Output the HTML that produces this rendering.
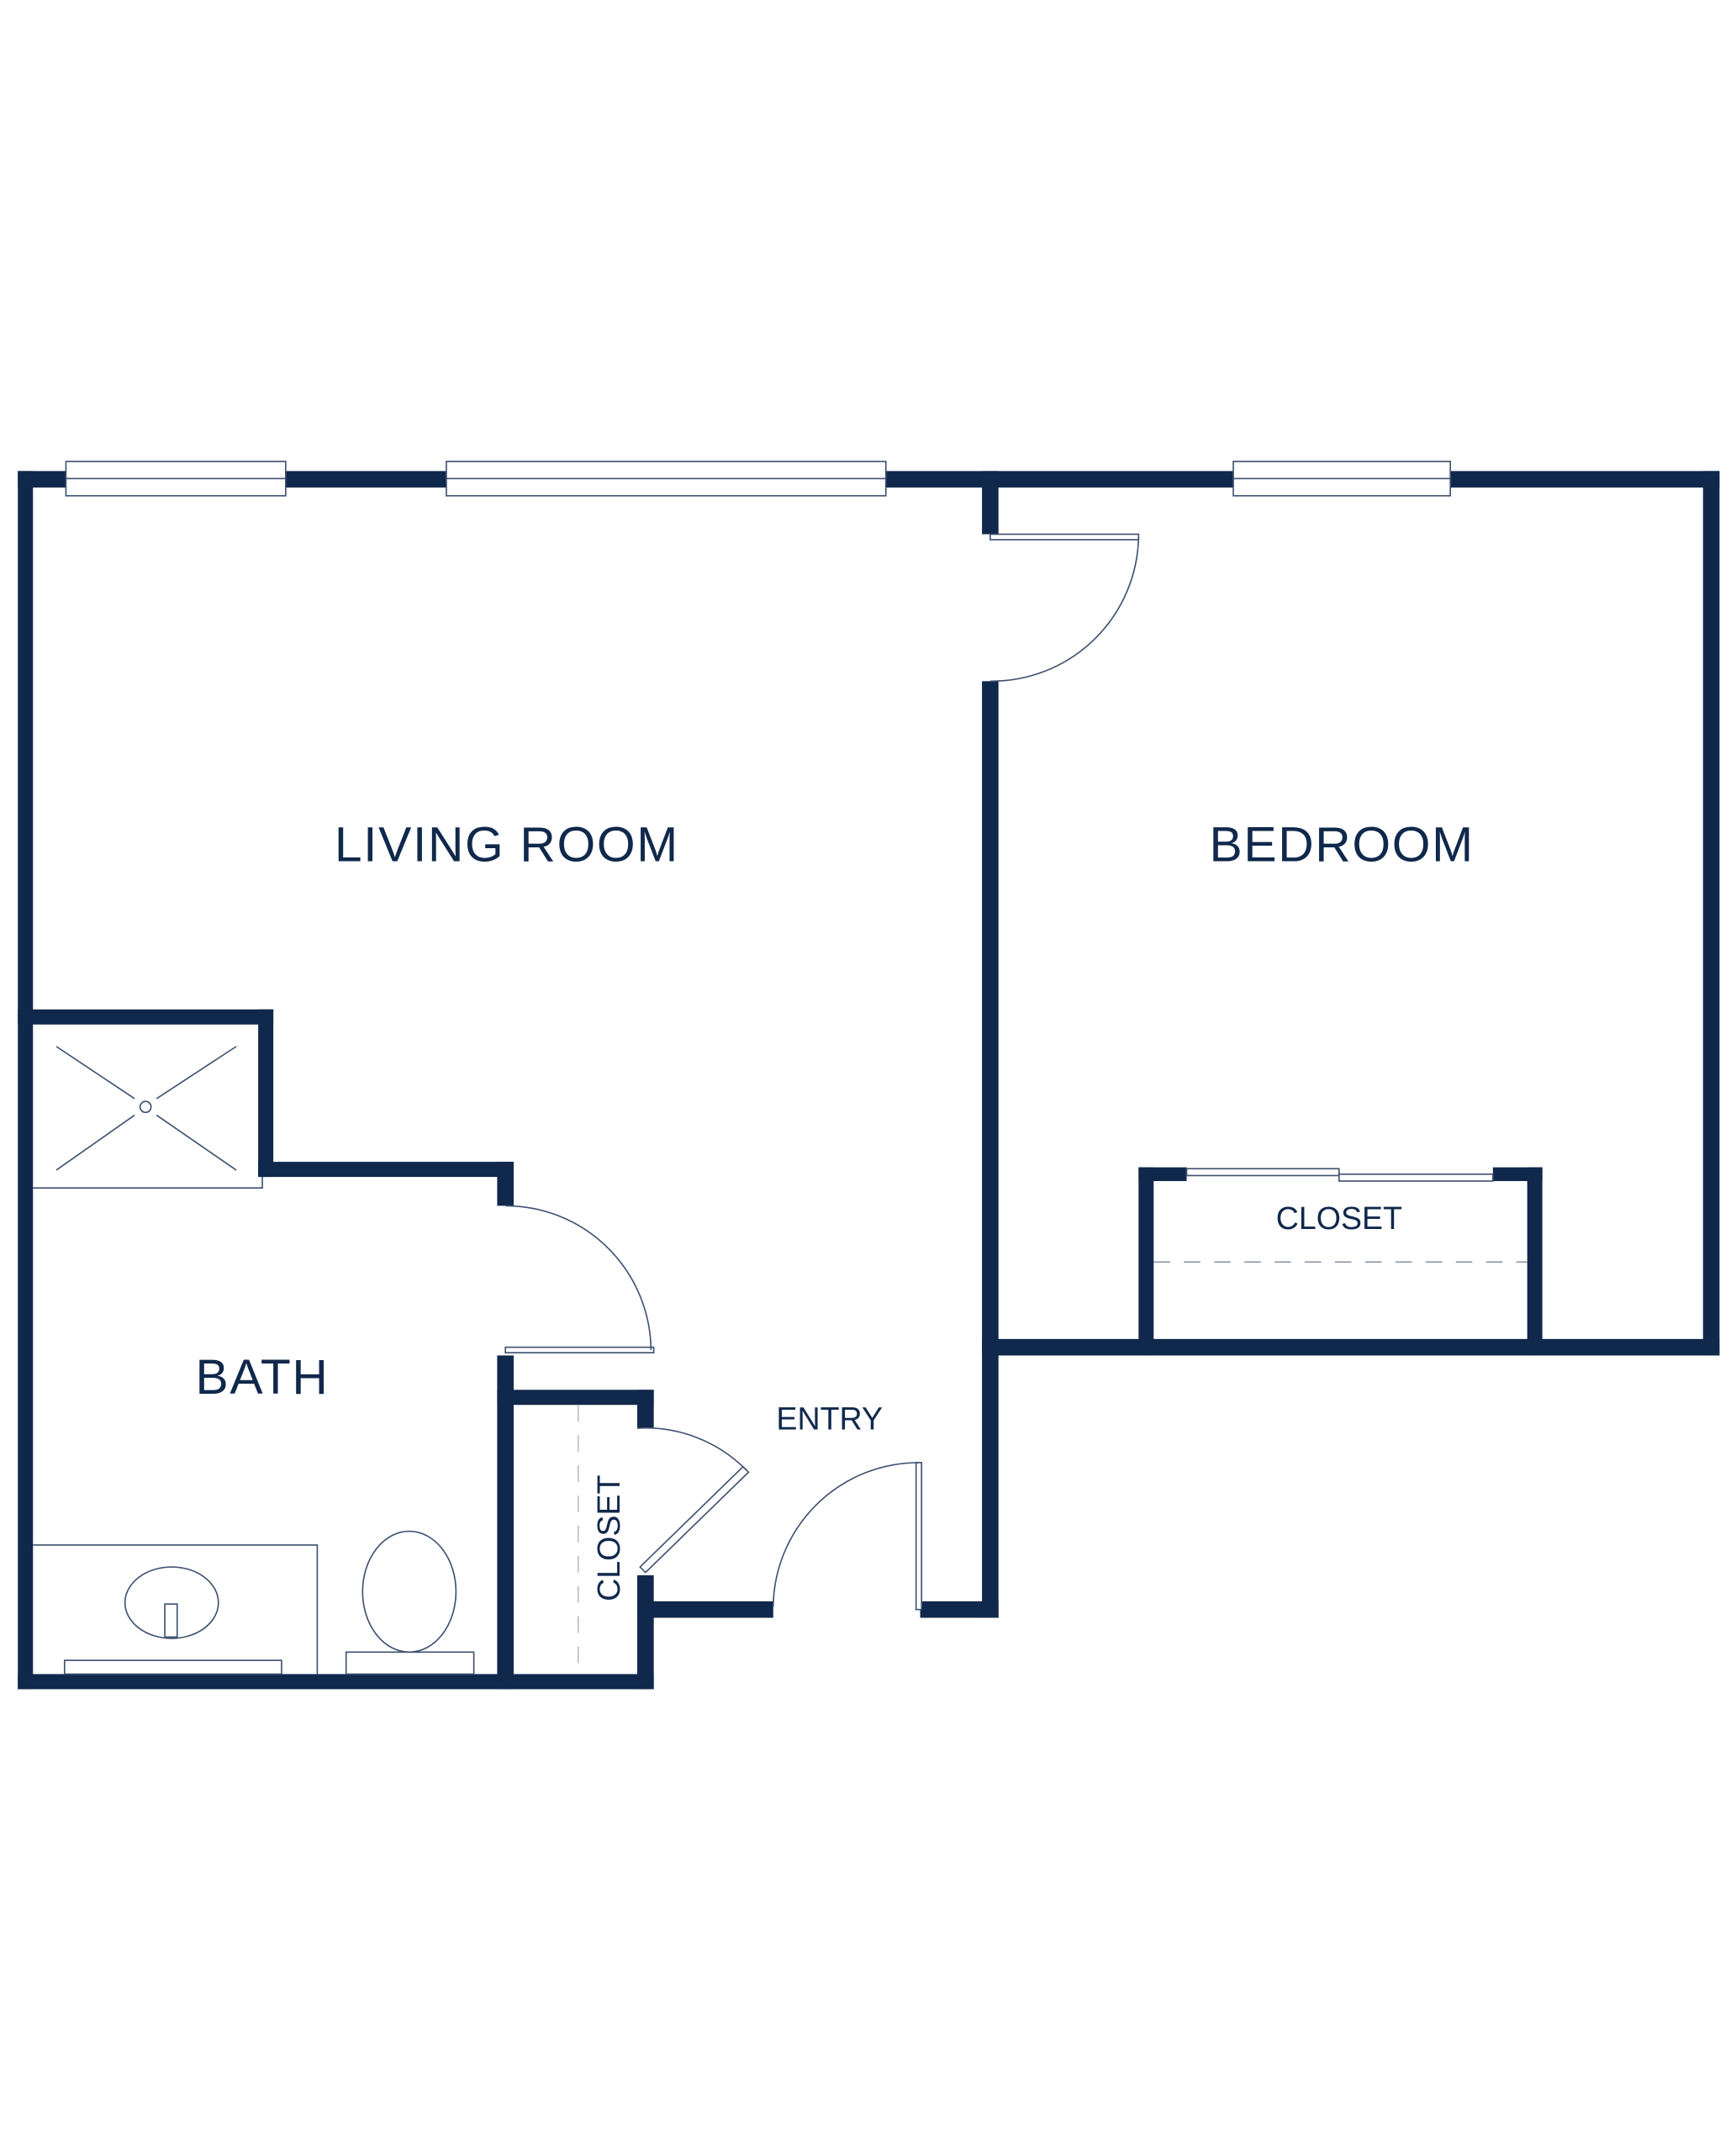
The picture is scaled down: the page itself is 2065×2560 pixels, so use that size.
<!DOCTYPE html>
<html><head><meta charset="utf-8"><style>
html,body{margin:0;padding:0;background:#fff;}
svg{display:block;}
text{font-family:"Liberation Sans",sans-serif;fill:#10284b;}
</style></head><body>
<svg width="2065" height="2560" viewBox="0 0 1264 1567" xmlns="http://www.w3.org/2000/svg">
<rect width="1264" height="1567" fill="#fff"/>
<g fill="#10284b">
<!-- outer -->
<rect x="13" y="343" width="1239" height="12"/>
<rect x="13" y="343" width="11" height="887"/>
<rect x="1240" y="343" width="12" height="644"/>
<rect x="715" y="975" width="537" height="12"/>
<rect x="13" y="1219" width="463" height="11"/>
<!-- partition -->
<rect x="715" y="343" width="12" height="46"/>
<rect x="715" y="496" width="12" height="682"/>
<rect x="670" y="1166" width="57" height="12"/>
<!-- bedroom closet -->
<rect x="829" y="850" width="11" height="137"/>
<rect x="829" y="850" width="35" height="10"/>
<rect x="1087" y="850" width="36" height="10"/>
<rect x="1112" y="850" width="11" height="137"/>
<!-- shower / bath -->
<rect x="13" y="735" width="186" height="11"/>
<rect x="188" y="735" width="11" height="122"/>
<rect x="188" y="846" width="186" height="11"/>
<rect x="362" y="846" width="12" height="32"/>
<rect x="362" y="987" width="12" height="243"/>
<!-- entry closet -->
<rect x="362" y="1012" width="114" height="11"/>
<rect x="464" y="1012" width="12" height="28"/>
<rect x="464" y="1147" width="12" height="83"/>
<rect x="464" y="1166" width="99" height="12"/>
</g>
<g fill="#fff" stroke="#3e5170" stroke-width="1">
<!-- windows -->
<rect x="48" y="336" width="160" height="25"/><line x1="48" y1="348.5" x2="208" y2="348.5"/>
<rect x="325" y="336" width="320" height="25"/><line x1="325" y1="348.5" x2="645" y2="348.5"/>
<rect x="898" y="336" width="158" height="25"/><line x1="898" y1="348.5" x2="1056" y2="348.5"/>
<!-- door leaves -->
<rect x="721" y="389" width="108" height="4"/>
<rect x="368" y="981" width="108" height="4"/>
<rect x="667" y="1065" width="4" height="107"/>
<polygon points="466,1141 541,1068 545,1072 470,1145"/>
<!-- sliding closet doors -->
<rect x="864" y="851" width="111" height="5"/>
<rect x="975" y="855" width="112" height="5"/>
</g>
<g fill="none" stroke="#3e5170" stroke-width="1">
<path d="M829 391 A107 107 0 0 1 721 496"/>
<path d="M368 878 A106 106 0 0 1 474 983"/>
<path d="M669 1065 A106 106 0 0 0 563 1170"/>
<path d="M464 1040 A103 103 0 0 1 543 1070"/>
<!-- shower -->
<path d="M24 865 H191 V857"/>
<line x1="41" y1="762" x2="98" y2="800"/><line x1="114" y1="812" x2="172" y2="852"/>
<line x1="172" y1="762" x2="114" y2="800"/><line x1="98" y1="812" x2="41" y2="852"/>
<circle cx="106" cy="806" r="4"/>
<!-- vanity -->
<path d="M24 1125 H231 V1219"/>
<ellipse cx="125" cy="1167" rx="34" ry="26"/>
<rect x="120" y="1168" width="9" height="24"/>
<rect x="47" y="1209" width="158" height="10"/>
<!-- toilet -->
<ellipse cx="298" cy="1159" rx="34" ry="44"/>
<rect x="252" y="1203" width="93" height="16"/>
<!-- dashed -->
<line x1="840" y1="919" x2="1112" y2="919" stroke="#8894aa" stroke-dasharray="12,10"/>
<line x1="421" y1="1023" x2="421" y2="1219" stroke="#b5bccb" stroke-dasharray="12,10"/>
</g>
<text x="369" y="627" font-size="36" text-anchor="middle" letter-spacing="1">LIVING ROOM</text>
<text x="977" y="627" font-size="36" text-anchor="middle" letter-spacing="1">BEDROOM</text>
<text x="191" y="1015" font-size="36" text-anchor="middle" letter-spacing="1">BATH</text>
<text x="604" y="1041" font-size="23" text-anchor="middle">ENTRY</text>
<text x="975" y="895" font-size="23" text-anchor="middle">CLOSET</text>
<text transform="translate(451,1120) rotate(-90)" font-size="23" text-anchor="middle">CLOSET</text>
</svg>
</body></html>
